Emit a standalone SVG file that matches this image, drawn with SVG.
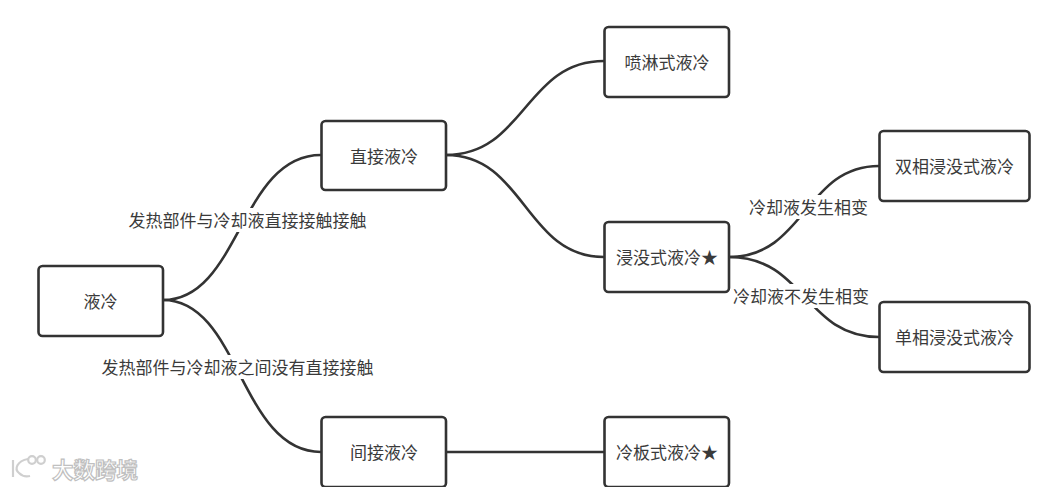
<svg xmlns="http://www.w3.org/2000/svg" width="1060" height="487" viewBox="0 0 1060 487">
<style>
text{font-family:"Noto Sans CJK SC","Liberation Sans",sans-serif;font-size:17px;fill:#3a3a3a;text-anchor:middle;dominant-baseline:central}
.n rect{fill:#fff;stroke:#333;stroke-width:2.6}
.c path{fill:none;stroke:#333;stroke-width:2.6}
.lb{fill:#fff}
.wm{font-size:21.500px;fill:#fff;stroke:#c0c0c0;stroke-width:1.200;font-weight:700}
.wl{fill:none;stroke:#cfcfcf;stroke-width:2.200}
</style>
<rect width="1060" height="487" fill="#fff"/>
<g id="connectors" class="c">
<path d="M163 300C240 300 240 155 321 155"/>
<path d="M163 300C240 300 240 452 321 452"/>
<path d="M446 155C525 155 525 61 604 61"/>
<path d="M446 155C525 155 525 257 604 257"/>
<path d="M446 452H604"/>
<path d="M729 257C805 257 805 166 879 166"/>
<path d="M729 257C805 257 805 337 879 337"/>
</g>
<g id="edge-labels">
<rect class="lb" x="129" y="208" width="237" height="24"/>
<text x="247.500" y="219">发热部件与冷却液直接接触接触</text>
<rect class="lb" x="102" y="355" width="271" height="24"/>
<text x="237.500" y="366">发热部件与冷却液之间没有直接接触</text>
<rect class="lb" x="750" y="195" width="117" height="24"/>
<text x="808.500" y="206">冷却液发生相变</text>
<rect class="lb" x="733" y="284" width="136" height="24"/>
<text x="801" y="295">冷却液不发生相变</text>
</g>
<g id="node-root" class="n"><rect x="38.500" y="266" width="124.500" height="70" rx="4"/><text x="100.500" y="300.500">液冷</text></g>
<g id="node-direct" class="n"><rect x="321.500" y="121" width="124.500" height="69" rx="4"/><text x="384" y="155.500">直接液冷</text></g>
<g id="node-indirect" class="n"><rect x="321.500" y="417" width="124.500" height="70" rx="4"/><text x="384" y="451.500">间接液冷</text></g>
<g id="node-spray" class="n"><rect x="604.500" y="27" width="124.500" height="70" rx="4"/><text x="667" y="61.500">喷淋式液冷</text></g>
<g id="node-immersion" class="n"><rect x="604.500" y="222" width="124.500" height="70" rx="4"/><text x="667" y="256.500">浸没式液冷★</text></g>
<g id="node-plate" class="n"><rect x="604.500" y="417" width="124.500" height="70" rx="4"/><text x="667" y="451.500">冷板式液冷★</text></g>
<g id="node-two-phase" class="n"><rect x="879.500" y="131" width="150" height="70" rx="4"/><text x="954.500" y="165.500">双相浸没式液冷</text></g>
<g id="node-single-phase" class="n"><rect x="879.500" y="302" width="150" height="70" rx="4"/><text x="954.500" y="336.500">单相浸没式液冷</text></g>
<g id="watermark">
<path class="wl" d="M13 460V477M28 459C17 461 14 469 19 473C22 476 26 477 30 476"/>
<circle class="wl" cx="32" cy="460" r="3.800"/>
<circle class="wl" cx="41" cy="460" r="3.800"/>
<text class="wm" x="95" y="468">大数跨境</text>
</g>
</svg>
